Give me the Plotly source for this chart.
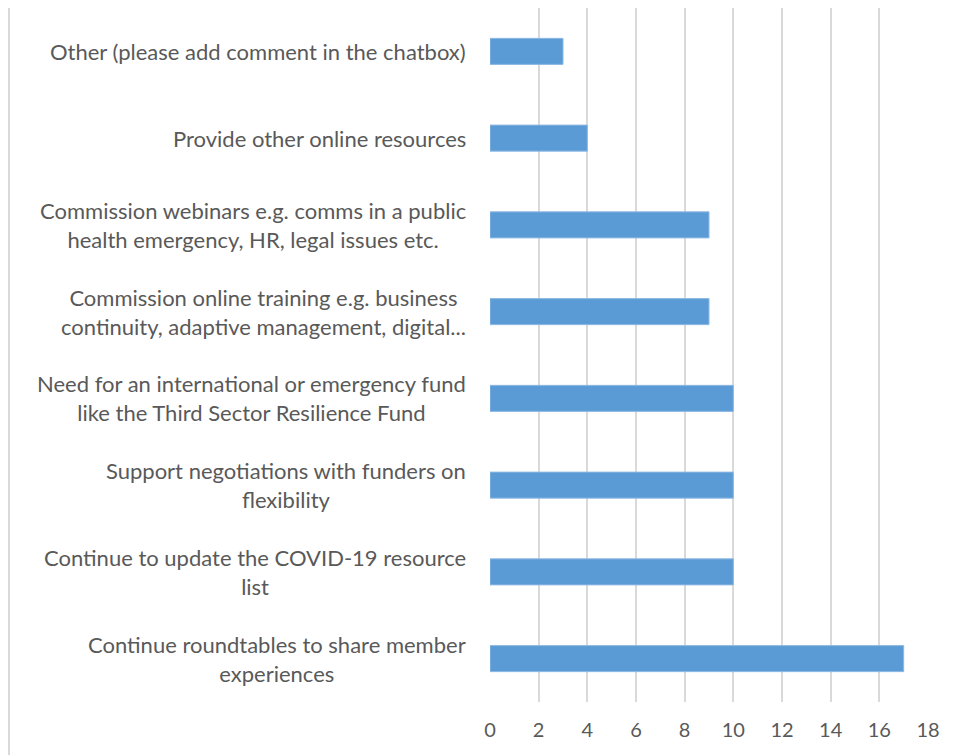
import plotly.graph_objects as go

categories = [
    "Other (please add comment in the chatbox)",
    "Provide other online resources",
    "Commission webinars e.g. comms in a public<br>health emergency, HR, legal issues etc.",
    "Commission online training e.g. business<br>continuity, adaptive management, digital...",
    "Need for an international or emergency fund<br>like the Third Sector Resilience Fund",
    "Support negotiations with funders on<br>flexibility",
    "Continue to update the COVID-19 resource<br>list",
    "Continue roundtables to share member<br>experiences",
]
values = [3, 4, 9, 9, 10, 10, 10, 17]
x_ticks = [0, 2, 4, 6, 8, 10, 12, 14, 16, 18]

TXT = "#595959"
FONT = "Lato"

fig = go.Figure()
fig.add_trace(go.Bar(
    y=list(range(len(categories))),
    x=values,
    orientation="h",
    width=0.3,
    marker=dict(color="#5B9BD5", line=dict(color="#8DB8E3", width=1)),
    showlegend=False,
    hoverinfo="x",
))

for i, c in enumerate(categories):
    fig.add_annotation(
        x=-22 / 438, xref="paper", y=i, yref="y",
        text=c, showarrow=False, xanchor="right", yanchor="middle",
        align="center", font=dict(family=FONT, size=22, color=TXT),
    )

fig.update_layout(
    width=948, height=747,
    margin=dict(l=482, r=28, t=0, b=53),
    paper_bgcolor="white", plot_bgcolor="white",
    font=dict(family=FONT, size=20, color=TXT),
    xaxis=dict(
        range=[0, 18], tickvals=x_ticks, ticktext=[str(v) for v in x_ticks],
        showgrid=True, gridcolor="#D9D9D9", gridwidth=2,
        zeroline=False, showline=False, ticks="",
        ticklabelstandoff=14, fixedrange=True,
    ),
    yaxis=dict(
        range=[len(categories) - 0.5, -0.5],
        showticklabels=False, showgrid=False, zeroline=False,
        showline=False, ticks="",
    ),
    shapes=[dict(
        type="line", xref="paper", yref="paper",
        x0=(1 - 482) / 438, x1=(1 - 482) / 438,
        y0=-53 / 694, y1=1.0,
        line=dict(color="#D9D9D9", width=2),
    )],
)

fig.write_html("out.html")
